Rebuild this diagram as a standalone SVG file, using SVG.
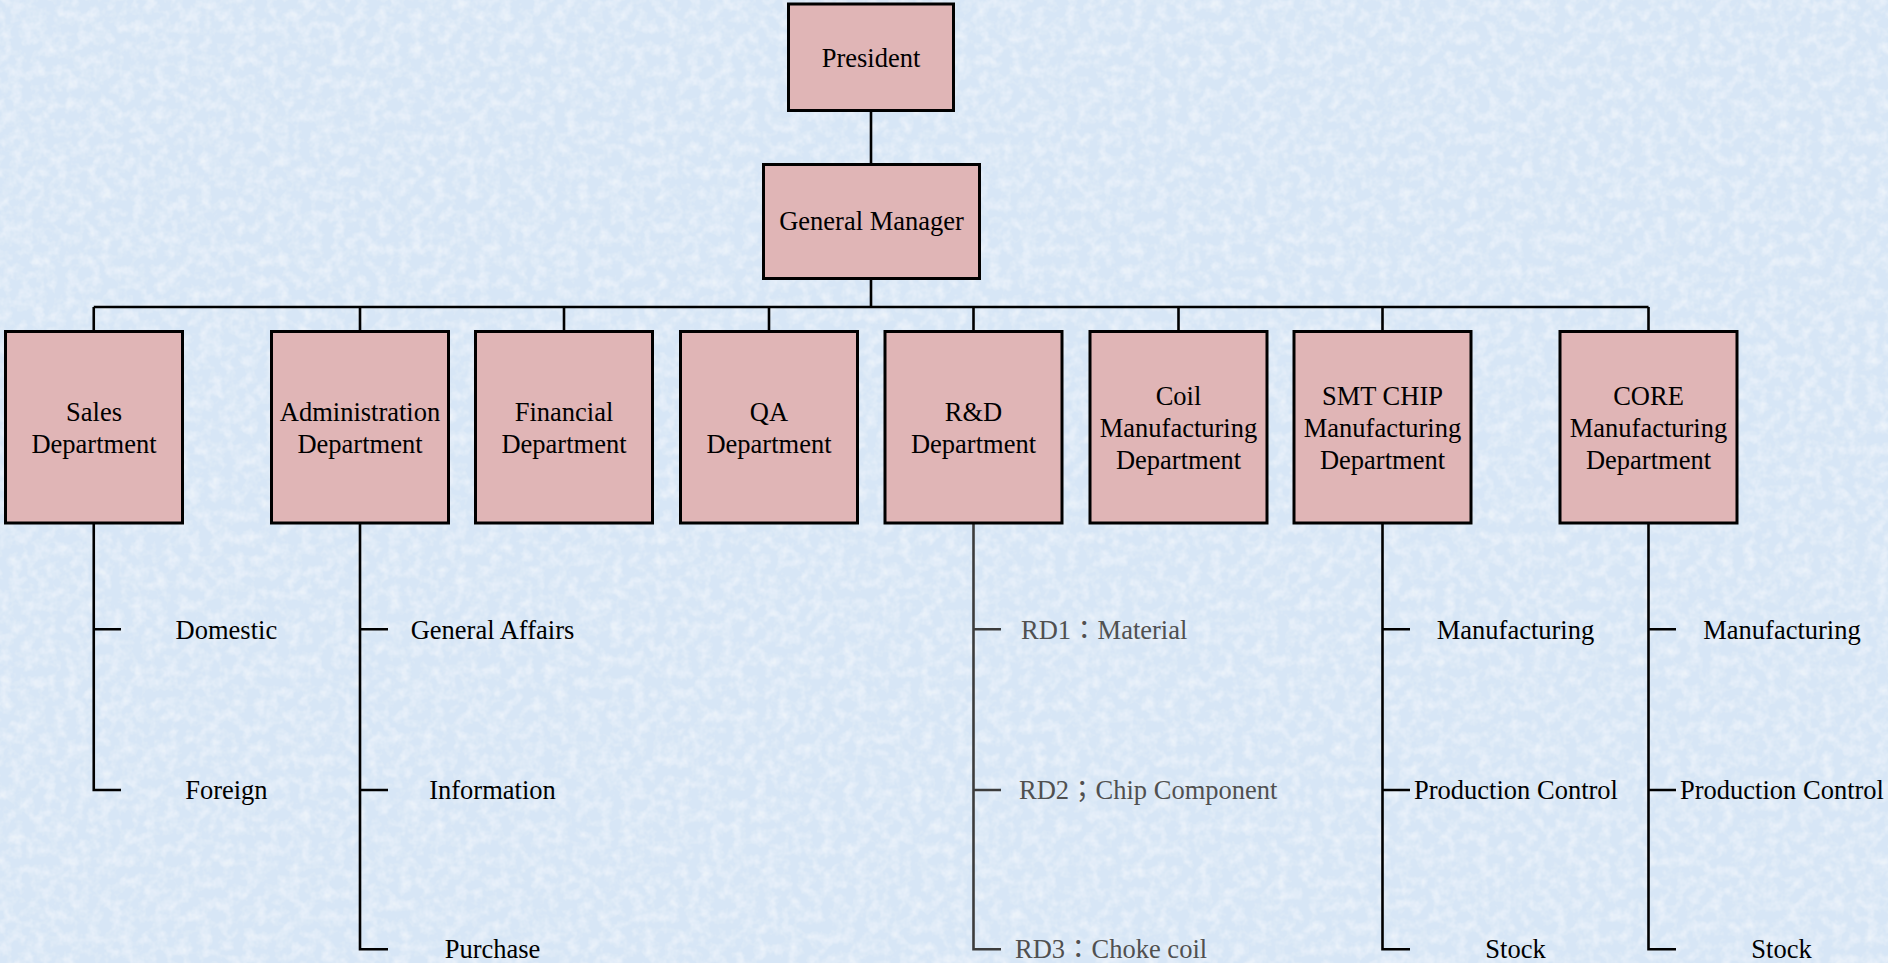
<svg xmlns="http://www.w3.org/2000/svg" width="1888" height="963" viewBox="0 0 1888 963">
<style>
.box{fill:#E0B5B6;stroke:#000;stroke-width:3}
.t{font-family:"Liberation Serif","Times New Roman",serif;font-size:26.5px;fill:#000;text-anchor:middle}
.sub{font-family:"Liberation Serif","Times New Roman",serif;font-size:26.5px;fill:#000;text-anchor:middle}
.rd{font-family:"Liberation Serif","Noto Sans CJK TC",serif;font-size:26.5px;fill:#505050}
.ln{stroke:#000;stroke-width:2.6;fill:none}
.lg{stroke:#3c3c3c;stroke-width:2.6;fill:none}
</style>
<defs>
<filter id="tex" x="0" y="0" width="100%" height="100%">
<feTurbulence type="fractalNoise" baseFrequency="0.09" numOctaves="3" seed="7" result="n"/>
<feColorMatrix in="n" type="matrix" values="0 0 0 0 1  0 0 0 0 1  0 0 0 0 1  0 0 0 1.3 -0.5" result="w"/>
<feComposite in="w" in2="SourceGraphic" operator="over"/>
</filter>
</defs>
<rect x="0" y="0" width="1888" height="963" fill="#D7E6F6"/>
<rect x="0" y="0" width="1888" height="963" fill="#D7E6F6" filter="url(#tex)" opacity="0.75"/>

<g id="connectors">
<path class="ln" d="M871 110.5V164.5M871 278.5V307M93.75 307H1648.5M93.75 307V331.5M360 307V331.5M564 307V331.5M769 307V331.5M973.5 307V331.5M1178.5 307V331.5M1382.5 307V331.5M1648.5 307V331.5"/>
<path class="ln" d="M93.75 523V790H121M93.75 629.3H121"/>
<path class="ln" d="M360 523V949.3H388M360 629.3H388M360 790H388"/>
<path class="lg" d="M973.5 523V949.3H1001M973.5 629.3H1001M973.5 790H1001"/>
<path class="ln" d="M1382.5 523V949.3H1410M1382.5 629.3H1410M1382.5 790H1410"/>
<path class="ln" d="M1648.5 523V949.3H1676M1648.5 629.3H1676M1648.5 790H1676"/>
</g>

<g id="president">
<rect class="box" x="788.5" y="4" width="165" height="106.5"/>
<text class="t" x="871" y="67">President</text>
</g>
<g id="general-manager">
<rect class="box" x="763.5" y="164.5" width="216" height="114"/>
<text class="t" x="871.5" y="230">General Manager</text>
</g>
<g id="sales">
<rect class="box" x="5.5" y="331.5" width="177" height="191.5"/>
<text class="t" x="94" y="421">Sales</text>
<text class="t" x="94" y="453">Department</text>
</g>
<g id="administration">
<rect class="box" x="271.5" y="331.5" width="177" height="191.5"/>
<text class="t" x="360" y="421">Administration</text>
<text class="t" x="360" y="453">Department</text>
</g>
<g id="financial">
<rect class="box" x="475.5" y="331.5" width="177" height="191.5"/>
<text class="t" x="564" y="421">Financial</text>
<text class="t" x="564" y="453">Department</text>
</g>
<g id="qa">
<rect class="box" x="680.5" y="331.5" width="177" height="191.5"/>
<text class="t" x="769" y="421">QA</text>
<text class="t" x="769" y="453">Department</text>
</g>
<g id="rnd">
<rect class="box" x="885" y="331.5" width="177" height="191.5"/>
<text class="t" x="973.5" y="421">R&amp;D</text>
<text class="t" x="973.5" y="453">Department</text>
</g>
<g id="coil">
<rect class="box" x="1090" y="331.5" width="177" height="191.5"/>
<text class="t" x="1178.5" y="404.5">Coil</text>
<text class="t" x="1178.5" y="436.5">Manufacturing</text>
<text class="t" x="1178.5" y="468.5">Department</text>
</g>
<g id="smt-chip">
<rect class="box" x="1294" y="331.5" width="177" height="191.5"/>
<text class="t" x="1382.5" y="404.5">SMT CHIP</text>
<text class="t" x="1382.5" y="436.5">Manufacturing</text>
<text class="t" x="1382.5" y="468.5">Department</text>
</g>
<g id="core">
<rect class="box" x="1560" y="331.5" width="177" height="191.5"/>
<text class="t" x="1648.5" y="404.5">CORE</text>
<text class="t" x="1648.5" y="436.5">Manufacturing</text>
<text class="t" x="1648.5" y="468.5">Department</text>
</g>

<g id="sales-subs">
<text class="sub" x="226.4" y="639">Domestic</text>
<text class="sub" x="226.4" y="798.5">Foreign</text>
</g>
<g id="admin-subs">
<text class="sub" x="492.5" y="639">General Affairs</text>
<text class="sub" x="492.5" y="798.5">Information</text>
<text class="sub" x="492.5" y="958">Purchase</text>
</g>
<g id="rnd-subs">
<text class="rd" x="1021" y="639">RD1：Material</text>
<text class="rd" x="1019" y="798.5">RD2；Chip Component</text>
<text class="rd" x="1015" y="958">RD3：Choke coil</text>
</g>
<g id="smt-subs">
<text class="sub" x="1515.5" y="639">Manufacturing</text>
<text class="sub" x="1516" y="798.5">Production Control</text>
<text class="sub" x="1515.5" y="958">Stock</text>
</g>
<g id="core-subs">
<text class="sub" x="1782" y="639">Manufacturing</text>
<text class="sub" x="1782" y="798.5">Production Control</text>
<text class="sub" x="1781.5" y="958">Stock</text>
</g>
</svg>
